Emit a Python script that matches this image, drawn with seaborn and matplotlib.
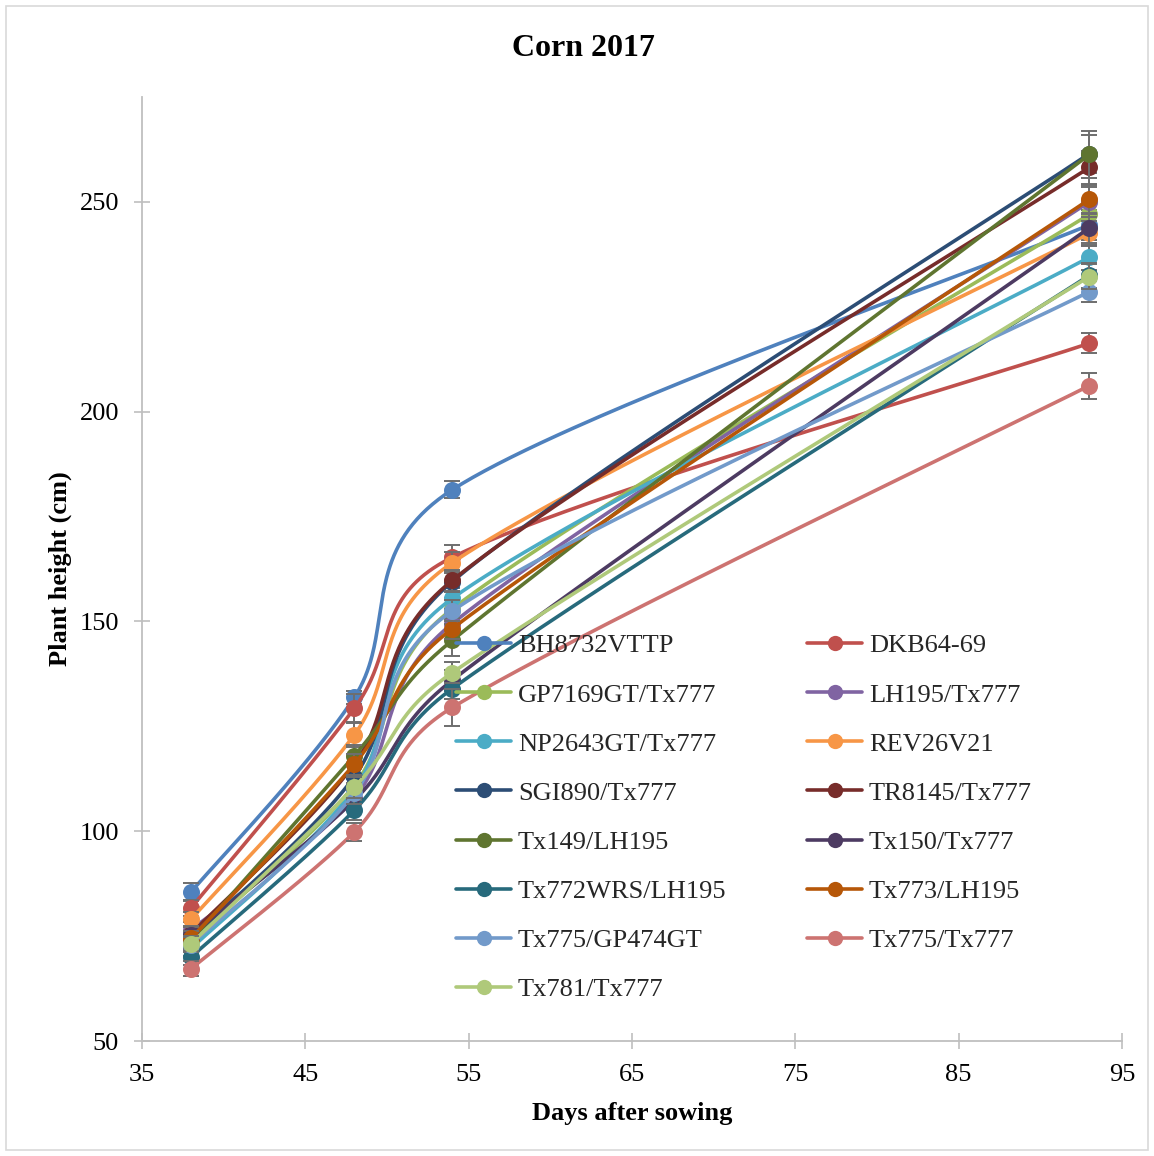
import numpy as np
import pandas as pd
import matplotlib
matplotlib.use("Agg")
import matplotlib.pyplot as plt
import seaborn as sns
from matplotlib.lines import Line2D
from matplotlib.patches import Rectangle

# ---------------- data ----------------
days = [38, 48, 54, 93]

genotypes = ["BH8732VTTP", "DKB64-69", "GP7169GT/Tx777", "LH195/Tx777",
             "NP2643GT/Tx777", "REV26V21", "SGI890/Tx777", "TR8145/Tx777",
             "Tx149/LH195", "Tx150/Tx777", "Tx772WRS/LH195", "Tx773/LH195",
             "Tx775/GP474GT", "Tx775/Tx777", "Tx781/Tx777"]

h_BH8732VTTP = [85.5, 131.9, 181.4, 244.5]
h_DKB64_69 = [81.7, 129.3, 165.3, 216.3]
h_GP7169GT = [74.0, 111.0, 153.0, 247.0]
h_LH195 = [76.5, 108.0, 149.5, 250.0]
h_NP2643GT = [72.0, 110.0, 155.5, 236.8]
h_REV26V21 = [79.0, 123.0, 164.0, 242.5]
h_SGI890 = [74.5, 113.0, 159.5, 261.5]
h_TR8145 = [75.5, 116.0, 159.8, 258.2]
h_Tx149 = [74.0, 118.0, 145.5, 261.3]
h_Tx150 = [75.3, 107.4, 136.0, 243.8]
h_Tx772WRS = [70.0, 105.0, 134.0, 232.5]
h_Tx773 = [74.5, 116.0, 148.3, 250.6]
h_Tx775GP = [73.0, 109.0, 152.5, 228.6]
h_Tx775Tx = [67.2, 99.8, 129.5, 206.2]
h_Tx781 = [73.2, 110.5, 137.8, 232.2]

e_BH8732VTTP = [2.1, 1.5, 2.0, 3.5]
e_DKB64_69 = [2.0, 3.3, 3.0, 2.4]
e_GP7169GT = [1.8, 2.5, 2.5, 3.0]
e_LH195 = [1.8, 2.5, 2.5, 3.5]
e_NP2643GT = [1.8, 2.5, 2.5, 3.0]
e_REV26V21 = [1.8, 2.9, 2.5, 3.0]
e_SGI890 = [1.8, 2.5, 2.5, 4.5]
e_TR8145 = [1.8, 2.5, 2.5, 4.0]
e_Tx149 = [1.8, 2.5, 3.8, 5.5]
e_Tx150 = [1.8, 2.5, 2.5, 3.5]
e_Tx772WRS = [1.8, 2.4, 2.5, 3.0]
e_Tx773 = [1.8, 2.5, 2.5, 3.5]
e_Tx775GP = [1.8, 2.5, 2.5, 2.5]
e_Tx775Tx = [1.8, 2.1, 4.5, 3.1]
e_Tx781 = [1.8, 2.5, 2.5, 3.0]

heights = [h_BH8732VTTP, h_DKB64_69, h_GP7169GT, h_LH195, h_NP2643GT,
           h_REV26V21, h_SGI890, h_TR8145, h_Tx149, h_Tx150, h_Tx772WRS,
           h_Tx773, h_Tx775GP, h_Tx775Tx, h_Tx781]
errors = [e_BH8732VTTP, e_DKB64_69, e_GP7169GT, e_LH195, e_NP2643GT,
          e_REV26V21, e_SGI890, e_TR8145, e_Tx149, e_Tx150, e_Tx772WRS,
          e_Tx773, e_Tx775GP, e_Tx775Tx, e_Tx781]

colors = ["#4F81BD", "#C0504D", "#9BBB59", "#8064A2", "#4BACC6", "#F79646",
          "#2C4D75", "#772C2A", "#5F7530", "#4D3B62", "#276A7C", "#B65708",
          "#729ACA", "#CD7371", "#AFC97A"]

x_ticks = [35, 45, 55, 65, 75, 85, 95]
y_ticks = [50, 100, 150, 200, 250]

# ---------------- figure ----------------
sns.set_theme(style="white")
plt.rcParams['font.family'] = ['Liberation Serif', 'DejaVu Serif']

W, H = 1154, 1156
fig = plt.figure(figsize=(W / 100, H / 100), dpi=100)
ax = fig.add_axes([142 / W, 115 / H, 980 / W, 944 / H])
ax.set_xlim(35, 95)
ax.set_ylim(50, 275)


def smooth_curve(xs, ys, n=80):
    """Excel-style smoothed line: Bezier segments, control arms of 1/6 the
    neighbour chord, capped at half the segment length (screen space)."""
    data = np.column_stack([xs, ys]).astype(float)
    pts = ax.transData.transform(data)
    out = []
    f = 1.0 / 6.0
    for i in range(len(pts) - 1):
        p1, p2 = pts[i], pts[i + 1]
        p0 = pts[i - 1] if i > 0 else pts[i]
        p3 = pts[i + 2] if i + 2 < len(pts) else pts[i + 1]
        d12 = np.linalg.norm(p2 - p1)
        d02 = np.linalg.norm(p2 - p0)
        d13 = np.linalg.norm(p3 - p1)
        f0 = f if d02 * f < d12 / 2 else (d12 / 2 / d02 if d02 > 0 else f)
        f1 = f if d13 * f < d12 / 2 else (d12 / 2 / d13 if d13 > 0 else f)
        c1 = p1 + (p2 - p0) * f0
        c2 = p2 - (p3 - p1) * f1
        t = np.linspace(0, 1, n)[:, None]
        seg = ((1 - t) ** 3) * p1 + 3 * ((1 - t) ** 2) * t * c1 \
            + 3 * (1 - t) * (t ** 2) * c2 + (t ** 3) * p2
        out.append(seg if i == 0 else seg[1:])
    return ax.transData.inverted().transform(np.vstack(out))


lw = 2.6
for k, (name, vals, errs, col) in enumerate(zip(genotypes, heights, errors, colors)):
    z = 3 + k * 0.5
    curve = smooth_curve(days, vals)
    ax.plot(curve[:, 0], curve[:, 1], color=col, lw=lw,
            solid_capstyle='round', zorder=z)
    ax.errorbar(days, vals, yerr=errs, fmt='none', ecolor='#6E6E6E',
                elinewidth=1.4, capsize=6, capthick=1.4, zorder=z + 0.1)
    df = pd.DataFrame({"day": days, "height": vals})
    sns.scatterplot(data=df, x="day", y="height", color=col, s=150,
                    linewidth=0, ax=ax, zorder=z + 0.2, legend=False)

ax.set_xlim(35, 95)
ax.set_ylim(50, 275)
ax.set_xticks(x_ticks)
ax.set_yticks(y_ticks)
ax.set_xticklabels([str(v) for v in x_ticks])
ax.set_yticklabels([str(v) for v in y_ticks])

for s in ["top", "right"]:
    ax.spines[s].set_visible(False)
for s in ["left", "bottom"]:
    ax.spines[s].set_color("#BFBFBF")
    ax.spines[s].set_linewidth(1.3)
ax.tick_params(axis='both', direction='inout', length=11, width=1.2,
               color='#BFBFBF', labelsize=19, labelcolor='black')
ax.tick_params(axis='y', pad=11, left=True)
ax.tick_params(axis='x', pad=11, bottom=True)
ax.grid(False)

ax.set_xlabel("Days after sowing", fontsize=19, fontweight='bold',
              color='black', labelpad=11.5)
ax.set_ylabel("Plant height (cm)", fontsize=19, fontweight='bold',
              color='black', labelpad=5.5)

fig.text(583 / W, 1 - 49 / H, "Corn 2017", ha='center', va='center',
         fontsize=23, fontweight='bold', color='black')

# legend (row-wise order like the original, 2 columns)
handles = [Line2D([0], [0], color=c, lw=lw, marker='o', markersize=11,
                  markeredgewidth=0, solid_capstyle='round') for c in colors]
order = list(range(0, 15, 2)) + list(range(1, 15, 2))
leg = ax.legend([handles[i] for i in order], [genotypes[i] for i in order],
                ncol=2, loc='upper left', bbox_to_anchor=(456 / W, 1 - 634 / H),
                bbox_transform=fig.transFigure, frameon=False, fontsize=19,
                handlelength=2.1, handletextpad=0.25, columnspacing=3.05,
                labelspacing=0.97, borderpad=0, borderaxespad=0)
leg.set_zorder(20)

# chart-area border
fig.patches.append(Rectangle((6 / W, 6 / H), 1 - 12 / W, 1 - 12 / H,
                             transform=fig.transFigure, fill=False,
                             edgecolor='#D9D9D9', lw=1.2))

fig.savefig("out.png", dpi=100, facecolor='white')
